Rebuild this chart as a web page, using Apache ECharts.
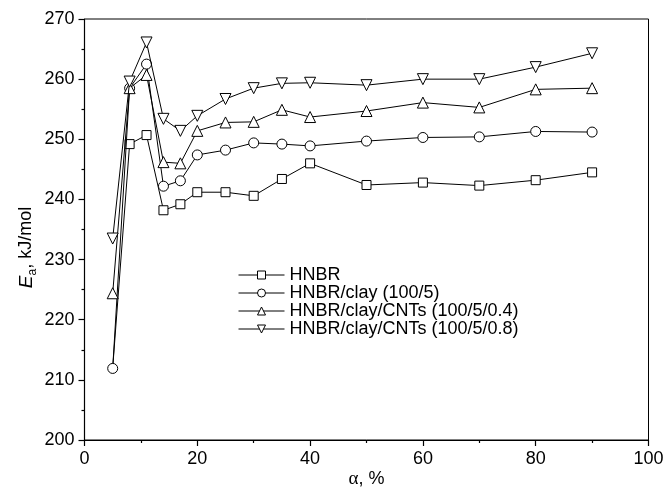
<!DOCTYPE html>
<html>
<head>
<meta charset="utf-8">
<script src="https://cdn.jsdelivr.net/npm/echarts@6/dist/echarts.min.js"></script>
<style>
  html, body { margin: 0; padding: 0; background: #fff; }
  #chart { width: 665px; height: 488px; }
</style>
</head>
<body>
<div id="chart"></div>
<script>
// Conversion degree, %
const alpha = [5, 8, 11, 14, 17, 20, 25, 30, 35, 40, 50, 60, 70, 80, 90];

// Activation energy Ea, kJ/mol
const hnbr      = [212.0, 249.2, 250.7, 238.2, 239.2, 241.2, 241.2, 240.6, 243.4, 246.0, 242.4, 242.8, 242.3, 243.2, 244.5];
const hnbrClay  = [211.9, 258.5, 262.5, 242.2, 243.1, 247.4, 248.2, 249.4, 249.2, 248.9, 249.7, 250.3, 250.4, 251.3, 251.2];
const cnts04    = [224.4, 258.5, 260.7, 246.2, 246.0, 251.4, 252.8, 252.9, 254.9, 253.7, 254.7, 256.1, 255.3, 258.3, 258.5];
const cnts08    = [233.5, 259.6, 266.1, 253.4, 251.4, 253.9, 256.7, 258.5, 259.3, 259.4, 259.0, 260.0, 260.0, 262.0, 264.3];

const seriesNames = [
  'HNBR',
  'HNBR/clay (100/5)',
  'HNBR/clay/CNTs (100/5/0.4)',
  'HNBR/clay/CNTs (100/5/0.8)'
];

const xTicks = { min: 0, max: 100, interval: 20 };
const yTicks = { min: 200, max: 270, interval: 10 };

const FONT = '"Liberation Sans", Arial, sans-serif';

// Marker look per series
const markers = [
  { symbol: 'rect', size: 9, rotate: 0 },
  { symbol: 'circle', size: 10, rotate: 0 },
  { symbol: 'triangle', size: 11, rotate: 0 },
  { symbol: 'triangle', size: 11, rotate: 180 }
];

const values = [hnbr, hnbrClay, cnts04, cnts08];

function buildData(idx) {
  return alpha.map((x, i) => {
    const v = values[idx][i];
    // the first HNBR point sits under the clay circle; only its line is seen
    if (idx === 0 && Math.abs(v - hnbrClay[i]) < 0.5) {
      return { value: [x, v], symbol: 'none' };
    }
    return [x, v];
  });
}

const series = seriesNames.map((name, idx) => ({
  name,
  type: 'line',
  data: buildData(idx),
  symbol: markers[idx].symbol,
  symbolSize: markers[idx].size,
  symbolRotate: markers[idx].rotate,
  showAllSymbol: true,
  lineStyle: { color: '#000', width: 1 },
  itemStyle: { color: '#fff', borderColor: '#000', borderWidth: 1 },
  emphasis: { disabled: true },
  animation: false,
  z: 2 + idx
}));

const chart = echarts.init(document.getElementById('chart'), null, { renderer: 'canvas' });

chart.setOption({
  backgroundColor: '#fff',
  animation: false,
  grid: {
    left: 84.5, right: 16.5, top: 19, bottom: 48,
    outerBoundsMode: 'none',
    containLabel: false,
    show: true, borderColor: '#000', borderWidth: 1, backgroundColor: 'transparent'
  },
  legend: {
    orient: 'vertical',
    left: 238,
    top: 266,
    padding: 0,
    itemWidth: 46,
    itemHeight: 10,
    itemGap: 0,
    data: seriesNames,
    lineStyle: { width: 1 },
    itemStyle: { borderWidth: 1 },
    textStyle: { fontFamily: FONT, fontSize: 18, color: '#000', lineHeight: 18 },
    selectedMode: false
  },
  xAxis: {
    type: 'value',
    min: xTicks.min, max: xTicks.max, interval: xTicks.interval,
    name: '{g|α}{n|, %}',
    nameLocation: 'middle',
    nameGap: 30,
    nameMoveOverlap: false,
    nameTextStyle: {
      rich: {
        g: { fontFamily: '"Liberation Serif", serif', fontSize: 19, color: '#000' },
        n: { fontFamily: FONT, fontSize: 18, color: '#000' }
      }
    },
    axisLine: { show: true, onZero: false, lineStyle: { color: '#000', width: 1.2 } },
    axisTick: { show: true, inside: false, length: 6, lineStyle: { color: '#000', width: 1.2 } },
    minorTick: { show: true, splitNumber: 2, length: 3, lineStyle: { color: '#000', width: 1.2 } },
    axisLabel: { fontFamily: FONT, fontSize: 18, color: '#000', margin: 10 },
    splitLine: { show: false }
  },
  yAxis: {
    type: 'value',
    min: yTicks.min, max: yTicks.max, interval: yTicks.interval,
    name: '{e|E}{s|a}{n|, kJ/mol}',
    nameLocation: 'middle',
    nameRotate: 90,
    nameGap: 46,
    nameMoveOverlap: false,
    nameTextStyle: {
      padding: [0, 36, 0, 0],
      rich: {
        e: { fontFamily: FONT, fontStyle: 'italic', fontSize: 19, color: '#000', lineHeight: 24 },
        s: { fontFamily: FONT, fontSize: 12, color: '#000', lineHeight: 12, verticalAlign: 'bottom' },
        n: { fontFamily: FONT, fontSize: 18, color: '#000', lineHeight: 24 }
      }
    },
    axisLine: { show: true, onZero: false, lineStyle: { color: '#000', width: 1.2 } },
    axisTick: { show: true, inside: false, length: 6, lineStyle: { color: '#000', width: 1.2 } },
    minorTick: { show: true, splitNumber: 2, length: 3, lineStyle: { color: '#000', width: 1.2 } },
    axisLabel: { fontFamily: FONT, fontSize: 18, color: '#000', margin: 10 },
    splitLine: { show: false }
  },
  series
});
</script>
</body>
</html>
